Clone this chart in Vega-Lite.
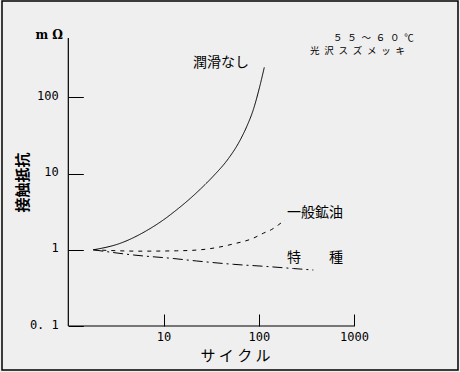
{
  "$schema": "https://vega.github.io/schema/vega-lite/v6.json",
  "width": 456,
  "height": 369,
  "autosize": {"type": "none"},
  "padding": {"left": 2, "top": 1, "right": 2, "bottom": 2},
  "background": "#efefef",
  "config": {
    "view": {"stroke": "#000000", "strokeWidth": 1.5},
    "font": "Noto Sans CJK JP"
  },
  "encoding": {
    "x": {
      "field": "x",
      "type": "quantitative",
      "scale": {"type": "log", "domain": [0.2012, 12362], "nice": false, "zero": false},
      "axis": {
        "orient": "bottom",
        "offset": -44,
        "domain": false,
        "grid": false,
        "values": [10, 100, 1000],
        "tickSize": -12,
        "tickColor": "#000000",
        "tickWidth": 1,
        "labelPadding": 17,
        "labelFont": "DejaVu Sans Mono",
        "labelFontSize": 12,
        "labelColor": "#000000",
        "labelBaseline": "top",
        "labelFlush": false,
        "labelOverlap": false,
        "labelExpr": "format(datum.value, 'd')",
        "title": "サ イ ク ル",
        "titleFont": "Noto Sans CJK JP",
        "titleFontSize": 15,
        "titleFontWeight": "normal",
        "titleColor": "#000000",
        "titleX": 233,
        "titleY": 29,
        "titleAlign": "center",
        "titleBaseline": "middle"
      }
    },
    "y": {
      "field": "y",
      "type": "quantitative",
      "scale": {"type": "log", "domain": [0.02646, 1841], "nice": false, "zero": false},
      "axis": {
        "orient": "left",
        "offset": -66.3,
        "domain": false,
        "grid": false,
        "values": [0.1, 1, 10, 100],
        "tickSize": -15,
        "tickColor": "#000000",
        "tickWidth": 1,
        "labelPadding": 25,
        "labelOffset": -2,
        "labelFont": "DejaVu Sans Mono",
        "labelFontSize": 12,
        "labelColor": "#000000",
        "labelFlush": false,
        "labelOverlap": false,
        "labelExpr": "datum.value < 0.5 ? '0. 1' : format(datum.value, 'd')",
        "title": "接触抵抗",
        "titleFont": "Noto Sans CJK JP",
        "titleFontSize": 15,
        "titleFontWeight": "bold",
        "titleColor": "#000000",
        "titleAngle": 270,
        "titleX": -46.3,
        "titleY": 181,
        "titleAlign": "center",
        "titleBaseline": "middle"
      }
    }
  },
  "layer": [
    {
      "data": {"values": [
        {"x": 1, "y": 0.1, "x2": 1000, "y2": 0.1},
        {"x": 1, "y": 0.1, "x2": 1, "y2": 603}
      ]},
      "mark": {"type": "rule", "color": "#000000", "strokeWidth": 1.2},
      "encoding": {
        "x2": {"field": "x2"},
        "y2": {"field": "y2"}
      }
    },
    {
      "data": {"values": [
        {"series": "潤滑なし", "x": 1.83, "y": 1.0},
        {"series": "潤滑なし", "x": 3.49, "y": 1.214},
        {"series": "潤滑なし", "x": 6.66, "y": 1.788},
        {"series": "潤滑なし", "x": 9.95, "y": 2.465},
        {"series": "潤滑なし", "x": 13.75, "y": 3.353},
        {"series": "潤滑なし", "x": 19.0, "y": 4.70},
        {"series": "潤滑なし", "x": 24.2, "y": 6.21},
        {"series": "潤滑なし", "x": 33.1, "y": 9.19},
        {"series": "潤滑なし", "x": 47.9, "y": 15.7},
        {"series": "潤滑なし", "x": 61.0, "y": 24.9},
        {"series": "潤滑なし", "x": 74.7, "y": 41.4},
        {"series": "潤滑なし", "x": 87.6, "y": 68.9},
        {"series": "潤滑なし", "x": 101.3, "y": 132},
        {"series": "潤滑なし", "x": 114.3, "y": 248},
        {"series": "一般鉱油", "x": 1.83, "y": 1.0},
        {"series": "一般鉱油", "x": 5.66, "y": 0.96},
        {"series": "一般鉱油", "x": 13.75, "y": 0.97},
        {"series": "一般鉱油", "x": 24.2, "y": 1.0},
        {"series": "一般鉱油", "x": 33.1, "y": 1.05},
        {"series": "一般鉱油", "x": 53.6, "y": 1.19},
        {"series": "一般鉱油", "x": 87.6, "y": 1.42},
        {"series": "一般鉱油", "x": 111.6, "y": 1.65},
        {"series": "一般鉱油", "x": 136.8, "y": 1.85},
        {"series": "一般鉱油", "x": 160.4, "y": 2.12},
        {"series": "一般鉱油", "x": 188.6, "y": 2.46},
        {"series": "特種", "x": 1.83, "y": 1.0},
        {"series": "特種", "x": 4.82, "y": 0.855},
        {"series": "特種", "x": 12.6, "y": 0.769},
        {"series": "特種", "x": 22.3, "y": 0.713},
        {"series": "特種", "x": 54.0, "y": 0.645},
        {"series": "特種", "x": 121.1, "y": 0.604},
        {"series": "特種", "x": 230.6, "y": 0.568},
        {"series": "特種", "x": 373.9, "y": 0.543}
      ]},
      "mark": {"type": "line", "strokeWidth": 1, "interpolate": "monotone"},
      "encoding": {
        "color": {"field": "series", "type": "nominal", "scale": {"domain": ["潤滑なし", "一般鉱油", "特種"], "range": ["#000000", "#000000", "#000000"]}, "legend": null},
        "strokeDash": {"field": "series", "type": "nominal", "scale": {"domain": ["潤滑なし", "一般鉱油", "特種"], "range": [[1, 0], [4, 5], [10, 4, 2, 4]]}, "legend": null}
      }
    },
    {
      "data": {"values": [
        {"label": "潤滑なし", "x": 20.4, "y": 280},
        {"label": "一般鉱油", "x": 198, "y": 3.07},
        {"label": "特　　種", "x": 198, "y": 0.78}
      ]},
      "mark": {"type": "text", "align": "left", "baseline": "middle", "font": "Noto Sans CJK JP", "fontSize": 14, "color": "#000000"},
      "encoding": {"text": {"field": "label"}}
    },
    {
      "data": {"values": [
        {"label": "５\u2002５\u2002～\u2002６\u2002０\u2002℃", "x": 602, "y": 593},
        {"label": "光\u2002沢\u2002ス\u2002ズ\u2002メ\u2002ッ\u2002キ", "x": 345, "y": 406}
      ]},
      "mark": {"type": "text", "align": "left", "baseline": "middle", "font": "Noto Sans CJK JP", "fontSize": 9.5, "color": "#000000"},
      "encoding": {"text": {"field": "label"}}
    },
    {
      "data": {"values": [{"label": "m Ω", "x": 0.88, "y": 659}]},
      "mark": {"type": "text", "align": "right", "baseline": "middle", "font": "DejaVu Serif", "fontWeight": "bold", "fontSize": 12, "color": "#000000"},
      "encoding": {"text": {"field": "label"}}
    }
  ]
}
